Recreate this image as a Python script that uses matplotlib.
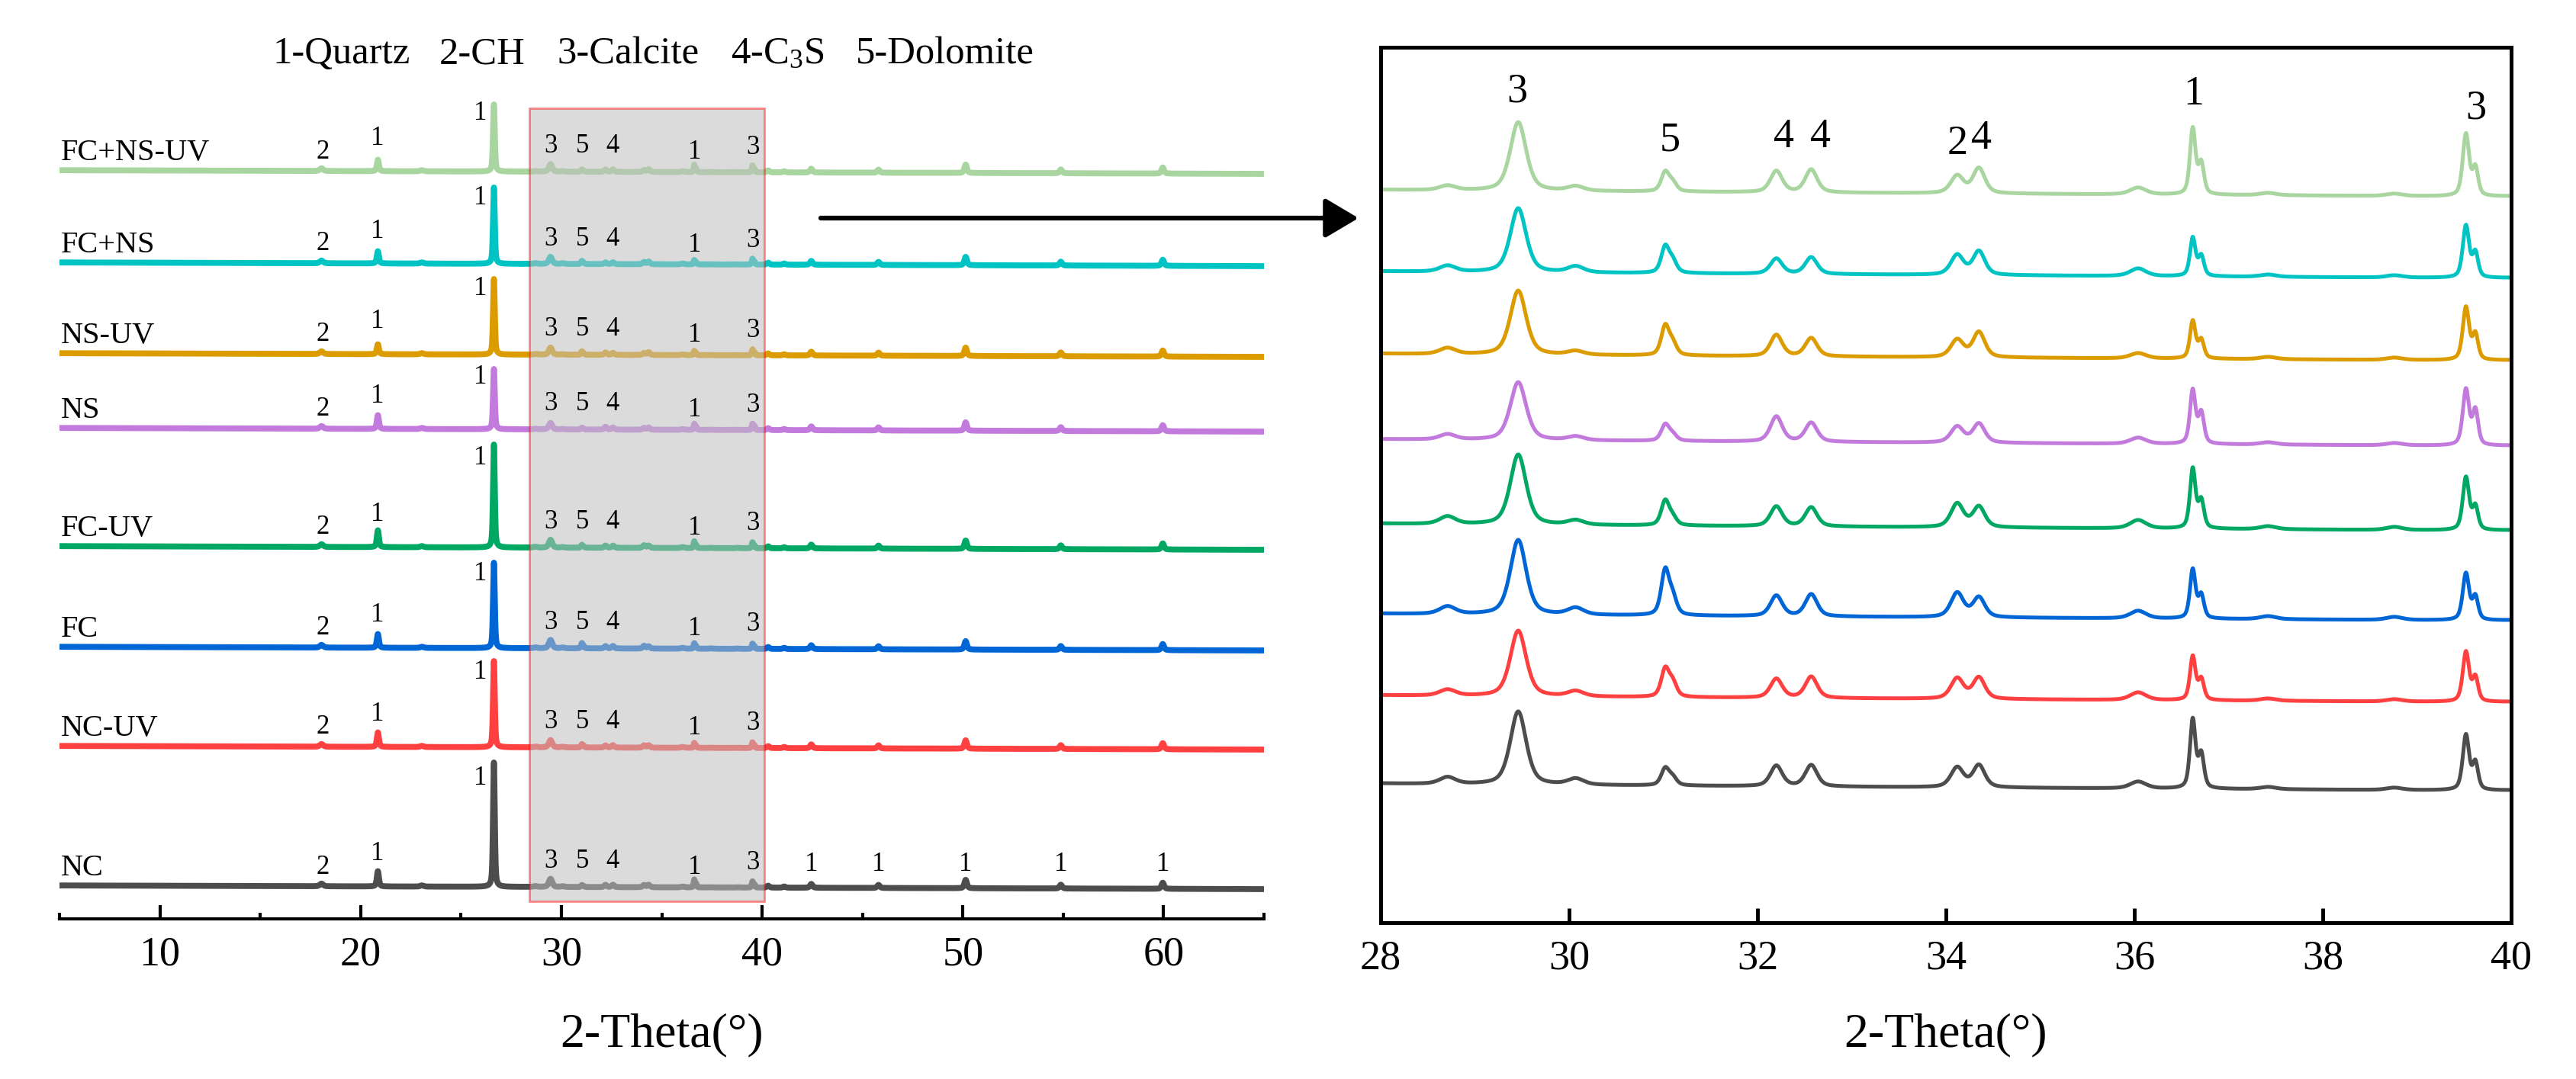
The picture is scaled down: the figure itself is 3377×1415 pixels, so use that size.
import numpy as np
import matplotlib
matplotlib.use("Agg")
import matplotlib.pyplot as plt
from matplotlib.patches import FancyArrowPatch

plt.rcParams['font.family'] = ['Liberation Serif', 'DejaVu Serif']
plt.rcParams['mathtext.fontset'] = 'custom'
plt.rcParams['mathtext.rm'] = 'Liberation Serif'
plt.rcParams['mathtext.it'] = 'Liberation Serif:italic'

# ---------------- data ----------------
samples = ['FC+NS-UV', 'FC+NS', 'NS-UV', 'NS', 'FC-UV', 'FC', 'NC-UV', 'NC']
colors = ['#a8d5a0', '#00c4c4', '#dc9c00', '#c27bdc', '#00a864', '#0066d6', '#ff4040', '#4d4d4d']

# stacking offsets (a.u.) for full pattern and detail view
offset_full = [979, 858, 739, 641, 486, 354, 224, 41]
offset_zoom = [952, 845, 737, 625, 514, 396, 289, 173]
zoom_gain = 9.0

# strong quartz reflections (a.u.)
quartz_main_pos = 26.64
quartz_main_h = [88, 100, 99, 79, 135, 112, 113, 163]
quartz_2_pos = 20.86
quartz_2_h = [15, 16, 13, 18, 22, 18, 19, 20]

# weak reflections outside detail window (a.u.)
minor_pos = [18.05, 23.05, 40.30, 41.10, 42.45, 45.80, 50.14, 54.88, 59.96]
minor_h = [3.5, 1.5, 2.5, 1.5, 5, 4, 11, 5, 8]
minor_w = [0.2, 0.2, 0.15, 0.15, 0.15, 0.15, 0.15, 0.15, 0.15]

# reflections in the 28-40 degree window (heights in detail-view a.u.)
detail_pos = [28.71, 29.46, 30.07, 31.02, 31.10, 32.20, 32.57, 34.12, 34.35,
              36.04, 36.62, 36.71, 37.42, 38.76, 39.52, 39.62]
detail_w = [0.2, 0.2, 0.2, 0.1, 0.1, 0.15, 0.15, 0.16, 0.15,
            0.2, 0.07, 0.07, 0.2, 0.2, 0.08, 0.07]
detail_h_fcnsuv = [6, 90, 6, 25, 11, 28, 30, 23, 33, 9, 86, 40, 3, 3, 81, 36]
detail_h_fcns = [8, 84, 8, 34, 15, 20, 22, 26, 31, 10, 50, 26, 3, 3, 68, 32]
detail_h_nsuv = [8, 84, 5, 38, 15, 28, 24, 23, 33, 7, 49, 24, 3, 3, 69, 33]
detail_h_ns = [7, 76, 5, 21, 8, 33, 25, 21, 25, 8, 70, 40, 3, 3, 73, 45]
detail_h_fcuv = [10, 92, 6, 32, 10, 26, 25, 31, 27, 11, 78, 36, 4, 4, 69, 30]
detail_h_fc = [10, 98, 9, 58, 22, 27, 29, 32, 26, 10, 64, 30, 4, 4, 61, 30]
detail_h_ncuv = [8, 86, 7, 36, 18, 25, 28, 27, 28, 10, 57, 27, 3, 3, 65, 31]
detail_h_nc = [9, 96, 8, 22, 10, 27, 28, 26, 29, 9, 90, 44, 3, 3, 72, 35]
detail_h = [detail_h_fcnsuv, detail_h_fcns, detail_h_nsuv, detail_h_ns,
            detail_h_fcuv, detail_h_fc, detail_h_ncuv, detail_h_nc]

bg_slope = 0.08
full_range = (5, 65)
detail_range = (28, 40)
highlight = (28.4, 40.1)

phases = ['1-Quartz', '2-CH', '3-Calcite', '4-C$_3$S', '5-Dolomite']


def pv(x, c, w, eta=0.5):
    t = (x - c) / w
    return eta / (1 + 4 * t ** 2) + (1 - eta) * np.exp(-4 * np.log(2) * t ** 2)


def pattern(x, i):
    y = bg_slope * (40 - x)
    y = y + quartz_main_h[i] * pv(x, quartz_main_pos, 0.1)
    y = y + quartz_2_h[i] * pv(x, quartz_2_pos, 0.12)
    for p, h, w in zip(minor_pos, minor_h, minor_w):
        y = y + h * pv(x, p, w)
    for p, h, w in zip(detail_pos, detail_h[i], detail_w):
        y = y + h / zoom_gain * pv(x, p, w)
    return y


x_full = np.arange(full_range[0], full_range[1] + 1e-9, 0.005)
x_det = np.arange(detail_range[0], detail_range[1] + 1e-9, 0.002)

W, H = 3377, 1415
fig = plt.figure(figsize=(W / 100, H / 100), dpi=100)

# ---------------- left panel ----------------
axL = fig.add_axes([78 / W, 1 - 1205 / H, 1579 / W, 1165 / H])
for i in range(len(samples)):
    axL.plot(x_full, offset_full[i] + pattern(x_full, i), color=colors[i], lw=5.6,
             solid_joinstyle='round', zorder=2)

axL.set_xlim(*full_range)
axL.set_ylim(0, 1165)
for s in ['left', 'right', 'top']:
    axL.spines[s].set_visible(False)
axL.spines['bottom'].set_linewidth(3)
axL.set_yticks([])
axL.set_xticks([10, 20, 30, 40, 50, 60])
axL.set_xticks([5, 15, 25, 35, 45, 55, 65], minor=True)
axL.tick_params(axis='x', which='major', direction='in', length=13, width=3,
                labelsize=39, pad=16)
axL.tick_params(axis='x', which='minor', direction='in', length=6, width=3)
axL.set_xlabel('2-Theta(°)', fontsize=46)
axL.xaxis.label.set_va('baseline')
axL.xaxis.set_label_coords(0.5, -(1372 - 1205) / 1165)

axL.axvspan(highlight[0], highlight[1], ymin=23 / 1165, ymax=1063 / 1165,
            facecolor=(0.75, 0.75, 0.75, 0.55), edgecolor=(1, 0, 0, 0.45),
            lw=2, zorder=3)

peak_labels = [('2', 18.1, 27), ('1', 20.84, 44), ('3', 29.45, 34), ('5', 31.06, 34),
               ('4', 32.55, 34), ('1', 36.65, 26), ('3', 39.55, 32)]
nc_extra = [42.45, 45.80, 50.14, 54.88, 59.96]
for i in range(len(samples)):
    base = offset_full[i] + bg_slope * (40 - full_range[0])
    axL.text(5.08, base + 13, samples[i], fontsize=29, ha='left', va='baseline', zorder=5)
    for t, px, dy in peak_labels:
        axL.text(px, offset_full[i] + dy, t, fontsize=25, ha='center', va='center', zorder=5)
    axL.text(25.95, offset_full[i] + 0.88 * quartz_main_h[i], '1', fontsize=25,
             ha='center', va='center', zorder=5)
    if samples[i] == 'NC':
        for px in nc_extra:
            axL.text(px, offset_full[i] + 31, '1', fontsize=25, ha='center',
                     va='center', zorder=5)

# phase legend
phase_x = [357, 576, 730, 958, 1122]
for t, px in zip(phases, phase_x):
    fig.text(px / W, 1 - 83 / H, t, fontsize=36.5, ha='left', va='baseline')

# ---------------- right panel ----------------
axR = fig.add_axes([1810 / W, 1 - 1210 / H, 1482 / W, 1148 / H])
for i in range(len(samples)):
    axR.plot(x_det, offset_zoom[i] + zoom_gain * pattern(x_det, i), color=colors[i],
             lw=3.6, zorder=2)
axR.set_xlim(*detail_range)
axR.set_ylim(0, 1148)
axR.set_yticks([])
axR.set_xticks(np.arange(28, 41, 2))
axR.tick_params(axis='x', direction='in', length=14, width=3.5, labelsize=39, pad=16)
for s in axR.spines.values():
    s.set_linewidth(3.6)
axR.set_xlabel('2-Theta(°)', fontsize=46)
axR.xaxis.label.set_va('baseline')
axR.xaxis.set_label_coords(0.5, -(1372 - 1210) / 1148)

det_labels = [('3', 29.45, 1077), ('5', 31.07, 1013), ('4', 32.28, 1017),
              ('4', 32.67, 1017), ('2', 34.12, 1008), ('4', 34.38, 1015),
              ('1', 36.63, 1073), ('3', 39.63, 1054)]
for t, px, py in det_labels:
    axR.text(px, py, t, fontsize=39, ha='center', va='baseline', zorder=5)

# arrow linking the panels
arrow = FancyArrowPatch((1076 / W, 1 - 286 / H), (1781 / W, 1 - 286 / H),
                        transform=fig.transFigure,
                        arrowstyle='-|>,head_length=27,head_width=16',
                        mutation_scale=1, lw=4.5, color='black',
                        shrinkA=0, shrinkB=0)
fig.patches.append(arrow)

fig.savefig('out.png', dpi=100)
